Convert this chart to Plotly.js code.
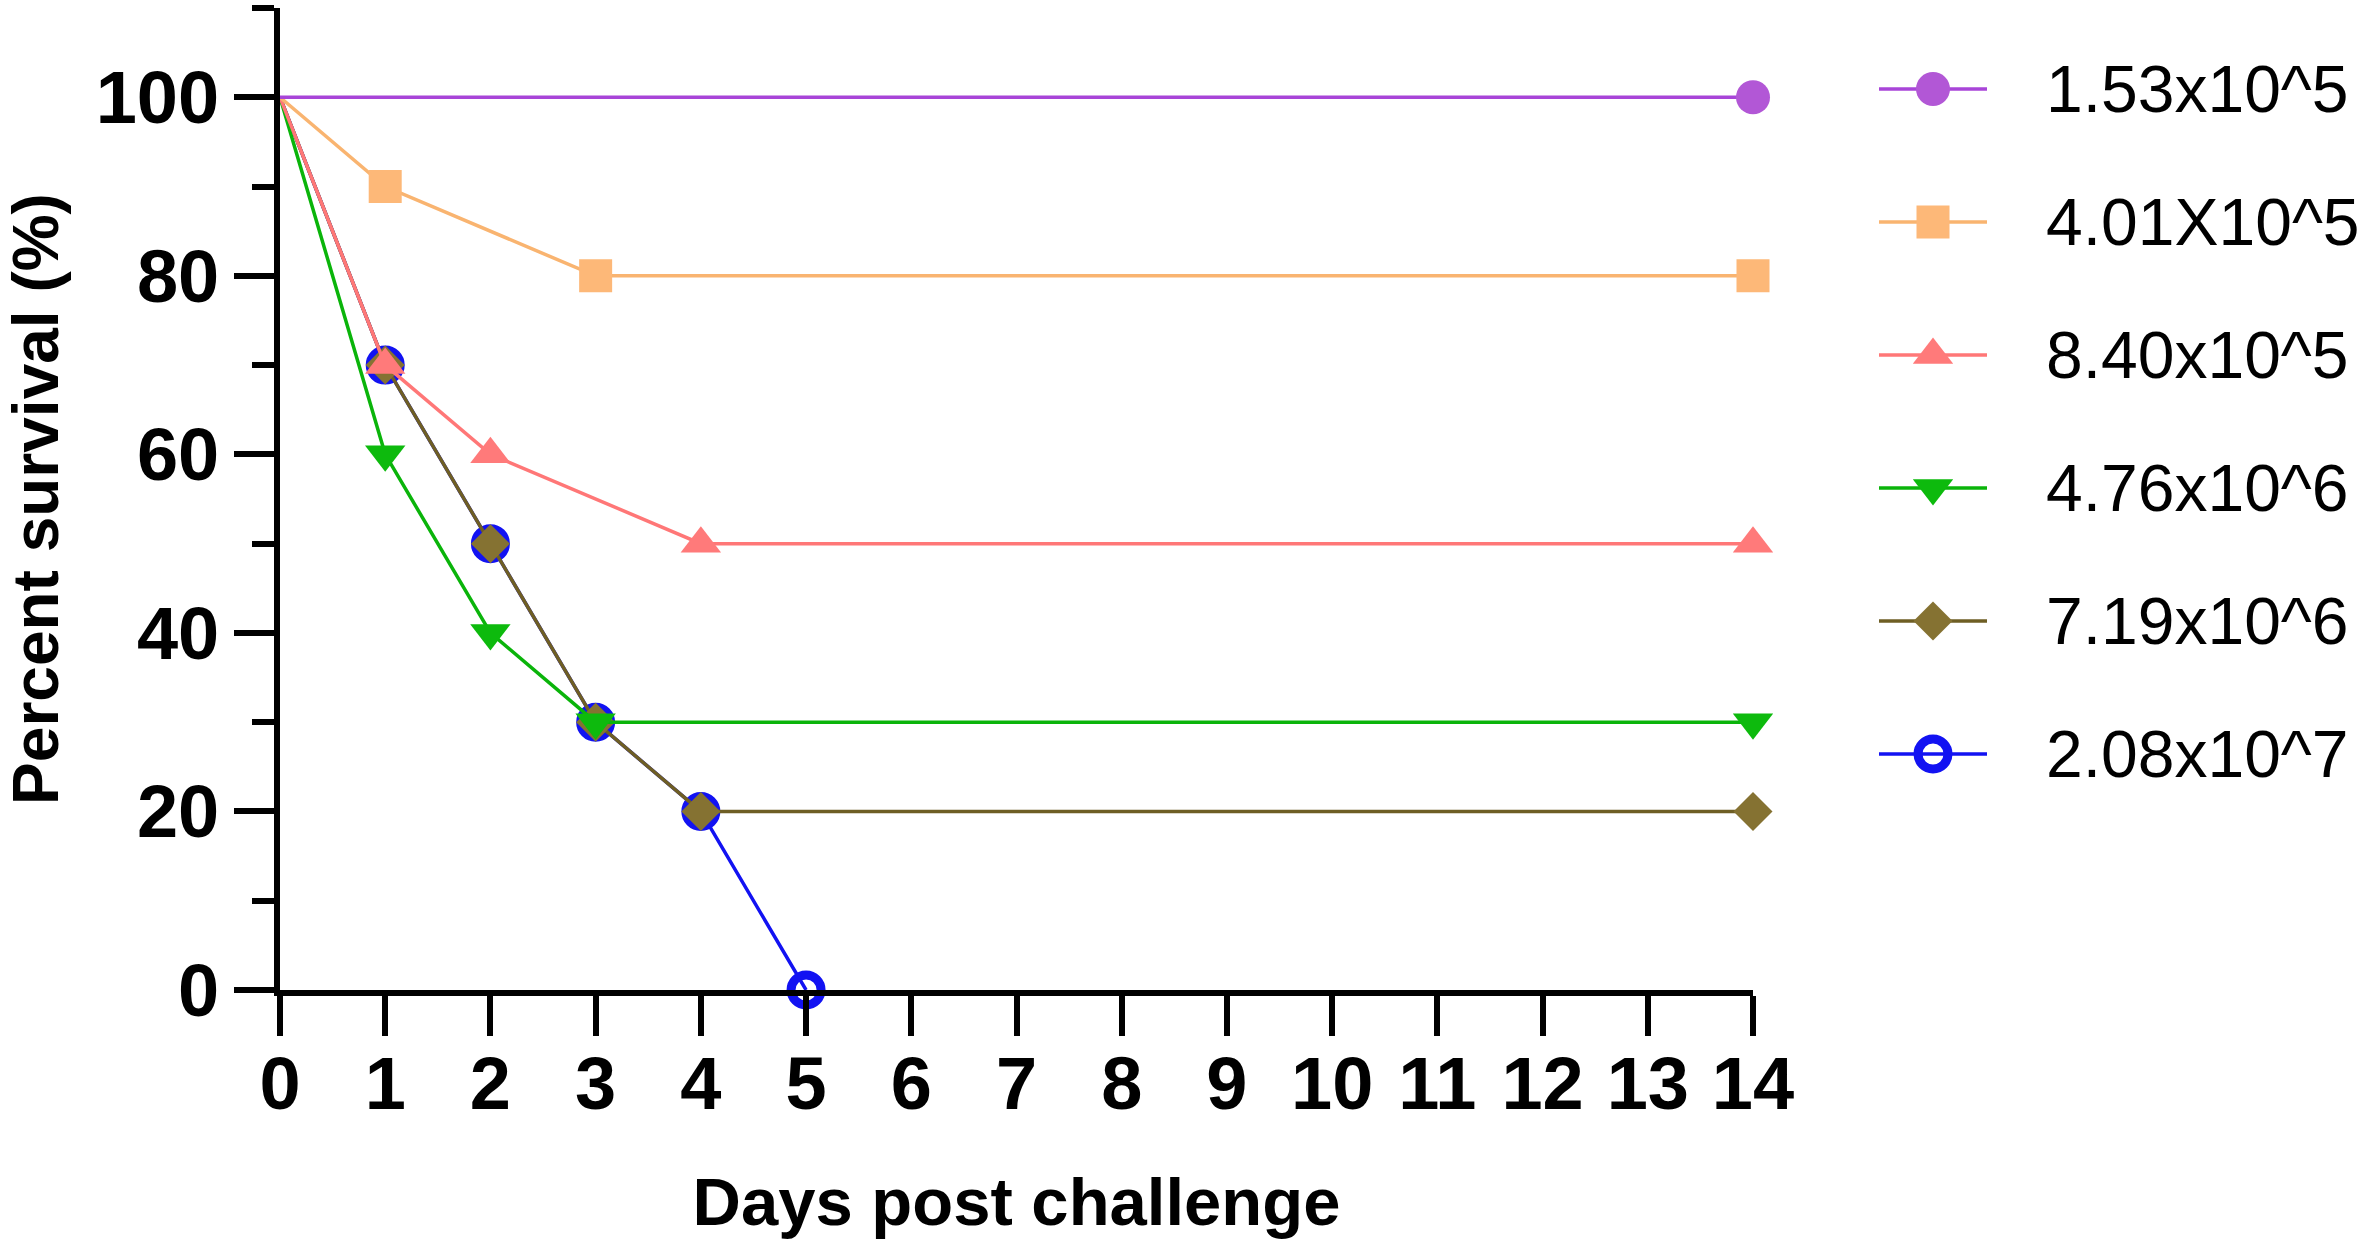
<!DOCTYPE html>
<html>
<head>
<meta charset="utf-8">
<script src="https://cdn.plot.ly/plotly-3.0.1.min.js"></script>
<style>
  html, body { margin: 0; padding: 0; background: #ffffff; }
  #chart { width: 2362px; height: 1256px; }
</style>
</head>
<body>
<div id="chart"></div>
<script>
// ---------------- DATA ----------------
const seriesNames = ['1.53x10^5', '4.01X10^5', '8.40x10^5', '4.76x10^6', '7.19x10^6', '2.08x10^7'];

const daysA = [0, 14];
const survA = [100, 100];

const daysB = [0, 1, 3, 14];
const survB = [100, 90, 80, 80];

const daysC = [0, 1, 2, 4, 14];
const survC = [100, 70, 60, 50, 50];

const daysD = [0, 1, 2, 3, 14];
const survD = [100, 60, 40, 30, 30];

const daysE = [0, 1, 2, 3, 4, 14];
const survE = [100, 70, 50, 30, 20, 20];

const daysF = [0, 1, 2, 3, 4, 5];
const survF = [100, 70, 50, 30, 20, 0];

const xTickVals = [0, 1, 2, 3, 4, 5, 6, 7, 8, 9, 10, 11, 12, 13, 14];
const yTickVals = [0, 20, 40, 60, 80, 100];

const xTitle = 'Days post challenge';
const yTitle = 'Percent survival (%)';

// ---------------- STYLE ----------------
const W = 2362, H = 1256;
const FONT = 'Liberation Sans, Arial, Helvetica, sans-serif';
const styles = [
  { line: '#A845D8', marker: '#B257D6', symbol: 'circle', size: 34 },
  { line: '#F9B470', marker: '#FDB878', symbol: 'square', size: 33 },
  { line: '#FF7777', marker: '#FF7A7A', symbol: 'triangle-up', size: 35 },
  { line: '#0AB40A', marker: '#0DBA0D', symbol: 'triangle-down', size: 35 },
  { line: '#6E5E24', marker: '#857232', symbol: 'diamond', size: 30 },
  { line: '#1212F2', marker: '#1212F2', symbol: 'circle-open', size: 30, lw: 9 }
];
const allDays = [daysA, daysB, daysC, daysD, daysE, daysF];
const allSurv = [survA, survB, survC, survD, survE, survF];

// plot area in pixels
const plotL = 280, plotR = 1753, plotT = 8, plotB = 990;
// legend geometry in pixels
const legLineL = 1879, legLineR = 1987, legTextX = 2044, legTop = 89, legStep = 133;

const traces = [];
// draw in reverse so that the first series lies on top
for (let i = seriesNames.length - 1; i >= 0; i--) {
  const st = styles[i];
  traces.push({
    type: 'scatter',
    mode: 'lines+markers',
    name: seriesNames[i],
    x: allDays[i],
    y: allSurv[i],
    xaxis: 'x', yaxis: 'y',
    line: { color: st.line, width: 3.5 },
    marker: {
      symbol: st.symbol,
      size: st.size,
      color: st.marker,
      opacity: allDays[i].map((d, k) => (k === 0 ? 0 : 1)),
      line: { width: st.lw || 0, color: st.marker }
    },
    cliponaxis: false,
    showlegend: false,
    hoverinfo: 'skip'
  });
}

// custom legend (long line with marker in the middle)
const annotations = [];
seriesNames.forEach((nm, i) => {
  const st = styles[i];
  const rowY = legTop + legStep * i;
  traces.push({
    type: 'scatter',
    mode: 'lines+markers',
    x: [0, 0.5, 1],
    y: [rowY, rowY, rowY],
    xaxis: 'x2', yaxis: 'y2',
    line: { color: st.line, width: 3.5 },
    marker: {
      symbol: st.symbol,
      size: st.size,
      color: st.marker,
      opacity: [0, 1, 0],
      line: { width: st.lw || 0, color: st.marker }
    },
    cliponaxis: false,
    showlegend: false,
    hoverinfo: 'skip'
  });
  annotations.push({
    xref: 'paper', yref: 'y2',
    x: legTextX / W, y: rowY,
    xanchor: 'left', yanchor: 'middle',
    text: nm,
    showarrow: false,
    font: { family: FONT, size: 66, color: '#000000' }
  });
});

const layout = {
  width: W, height: H,
  margin: { l: 0, r: 0, t: 0, b: 0, pad: 0 },
  paper_bgcolor: '#ffffff',
  plot_bgcolor: '#ffffff',
  showlegend: false,
  font: { family: FONT, color: '#000000' },
  xaxis: {
    domain: [plotL / W, plotR / W],
    range: [0, 14],
    tickmode: 'array',
    tickvals: xTickVals,
    ticktext: xTickVals.map(String),
    showline: true, linecolor: '#000000', linewidth: 6,
    ticks: 'outside', ticklen: 40, tickwidth: 6, tickcolor: '#000000',
    ticklabelstandoff: -16,
    showgrid: false, zeroline: false,
    tickfont: { family: FONT, size: 74, weight: 'bold', color: '#000000' },
    title: { text: xTitle, font: { family: FONT, size: 67, weight: 'bold', color: '#000000' }, standoff: 56 },
    automargin: false,
    anchor: 'y'
  },
  yaxis: {
    domain: [1 - plotB / H, 1 - plotT / H],
    range: [0, 110],
    tickmode: 'array',
    tickvals: yTickVals,
    ticktext: yTickVals.map(String),
    showline: true, linecolor: '#000000', linewidth: 6,
    ticks: 'outside', ticklen: 40, tickwidth: 6, tickcolor: '#000000',
    minor: { ticks: 'outside', dtick: 10, tick0: 0, ticklen: 22, tickwidth: 6, tickcolor: '#000000', showgrid: false },
    showgrid: false, zeroline: false,
    tickfont: { family: FONT, size: 74, weight: 'bold', color: '#000000' },
    title: { text: yTitle, font: { family: FONT, size: 64, weight: 'bold', color: '#000000' }, standoff: 40 },
    automargin: false,
    anchor: 'x'
  },
  xaxis2: {
    domain: [legLineL / W, legLineR / W],
    range: [0, 1],
    visible: false, fixedrange: true,
    anchor: 'y2'
  },
  yaxis2: {
    domain: [0, 1],
    range: [H, 0],
    visible: false, fixedrange: true,
    anchor: 'x2'
  },
  annotations: annotations
};

Plotly.newPlot('chart', traces, layout, { displayModeBar: false, staticPlot: true });
</script>
</body>
</html>
